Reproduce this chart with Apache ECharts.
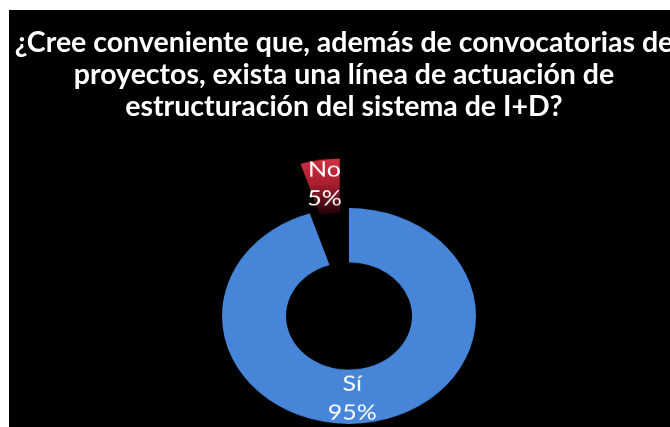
<!DOCTYPE html>
<html>
<head>
<meta charset="utf-8">
<script src="https://cdn.jsdelivr.net/npm/echarts@6/dist/echarts.min.js"></script>
<style>
html,body{margin:0;padding:0;background:#fff;overflow:hidden;width:670px;height:427px;}
#bg{position:absolute;left:0;top:0;width:670px;height:427px;}
#pie{position:absolute;left:0;top:0;width:670px;height:520px;transform:scaleY(0.85);transform-origin:0 316px;}
</style>
</head>
<body>
<div id="bg"></div>
<div id="pie"></div>
<script>
const titleLines = [
  '¿Cree conveniente que, además de convocatorias de',
  'proyectos, exista una línea de actuación de',
  'estructuración del sistema de I+D?'
];
const categories = ['Sí', 'No'];
const values = [95, 5];

const bg = echarts.init(document.getElementById('bg'));
bg.setOption({
  backgroundColor: '#ffffff',
  graphic: [{
    type: 'rect', left: 9, top: 10, z: 0,
    shape: { width: 661, height: 417 },
    style: { fill: '#000000' }
  }],
  title: {
    text: titleLines.join('\n'),
    left: 339, top: 22, textAlign: 'center',
    textStyle: {
      color: '#ffffff', fontFamily: 'Lato', fontWeight: 'bold',
      fontSize: 28.5, lineHeight: 32
    }
  }
});

const pie = echarts.init(document.getElementById('pie'));
pie.setOption({
  backgroundColor: 'transparent',
  series: [{
    type: 'pie',
    center: [349, 316],
    radius: [63, 127],
    startAngle: 90,
    clockwise: true,
    selectedMode: 'multiple',
    selectedOffset: 59,
    animation: false,
    label: {
      show: true, position: 'inside',
      formatter: '{b}\n{d}%',
      color: '#ffffff', fontFamily: 'Lato', fontSize: 25, lineHeight: 34
    },
    labelLayout: function (p) { return p.dataIndex === 0 ? { dx: -12 } : {}; },
    labelLine: { show: false },
    data: categories.map((c, i) => ({
      name: c, value: values[i], selected: i === 1,
      itemStyle: i === 0 ? { color: '#4685d8' } : {
        color: {
          type: 'linear', x: 0, y: 0, x2: 0, y2: 1,
          colorStops: [
            { offset: 0, color: '#d23040' },
            { offset: 0.45, color: '#a81f30' },
            { offset: 1, color: '#1a0006' }
          ]
        }
      }
    }))
  }]
});
</script>
</body>
</html>
